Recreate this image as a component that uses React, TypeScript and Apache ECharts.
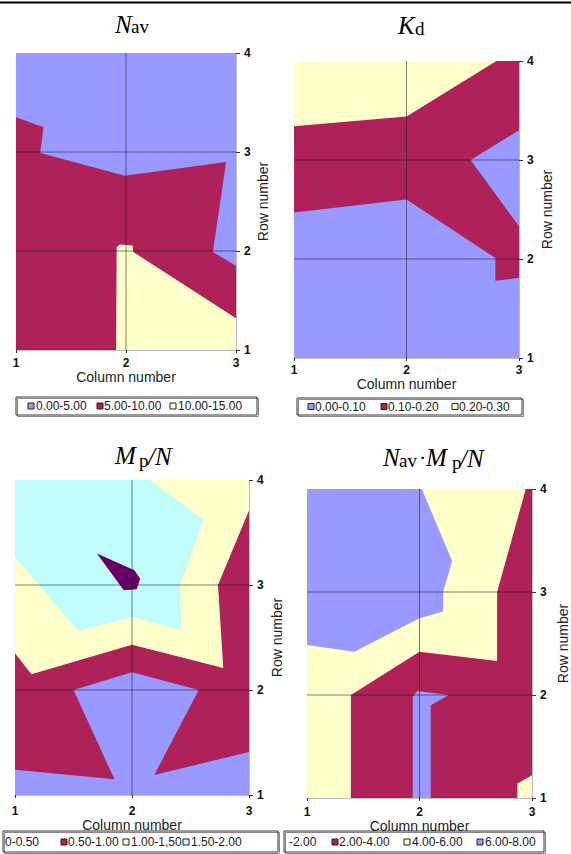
import React, { useEffect, useRef } from 'react';
import * as echarts from 'echarts';

// ---------------- data ----------------
const columnTicks = [1, 3];
const rowTicks = [1, 4];
const gridColumns = [2];
const gridRows = [2, 3];

// Panel 1: N_av
const navLegend = ['0.00-5.00', '5.00-10.00', '10.00-15.00'];
const navLow = [[1, 1], [3, 1], [3, 4], [1, 4]];
const navMid = [[1, 3.35], [1.25, 3.25], [1.22, 2.99], [1.99, 2.76], [2.91, 2.9], [2.79, 1.99], [3, 1.85], [3, 1], [1, 1]];
const navHigh = [[1.91, 1], [1.915, 2.04], [1.945, 2.065], [2.06, 2.055], [2.066, 1.99], [3, 1.32], [3, 1]];

// Panel 2: K_d
const kdLegend = ['0.00-0.10', '0.10-0.20', '0.20-0.30'];
const kdLow = [[1, 1], [3, 1], [3, 4], [1, 4]];
const kdMid = [[1, 2.47], [2, 2.6], [2.79, 2.01], [2.79, 1.78], [3, 1.81], [3, 2.33], [2.57, 3.0], [3, 3.3], [3, 4], [1, 4]];
const kdHigh = [[1, 4], [1, 3.34], [2, 3.44], [2.8, 4]];

// Panel 3: Mp/N
const mpLegend = ['0-0.50', '0.50-1.00', '1.00-1,50', '1.50-2.00'];
const mpBand3 = [[1, 1], [3, 1], [3, 4], [1, 4]];
const mpBand4 = [[1, 4], [2.15, 4], [2.61, 3.62], [2.41, 3.0], [2.42, 2.57], [2, 2.7], [1.54, 2.56], [1, 3.27]];
const mpBand2 = [[3, 3.71], [2.735, 3.0], [2.78, 2.21], [2, 2.43], [1.14, 2.15], [1, 2.35], [1, 1], [3, 1]];
const mpBand1 = [[1, 1.24], [1.85, 1.15], [1.5, 2.0], [2, 2.17], [2.57, 2.0], [2.19, 1.19], [3, 1.41], [3, 1], [1, 1]];
const mpBand5 = [[1.7, 3.3], [2.02, 3.14], [2.07, 3.06], [2.04, 2.96], [1.93, 2.95]];

// Panel 4: N_av * Mp/N
const prodLegend = ['-2.00', '2.00-4.00', '4.00-6.00', '6.00-8.00'];
const prodBand3 = [[1, 1], [3, 1], [3, 4], [1, 4]];
const prodBand4a = [[1, 4], [2.02, 4], [2.29, 3.3], [2.21, 3.0], [2.21, 2.81], [2, 2.745], [1.42, 2.42], [1, 2.485]];
const prodBand2 = [[2.94, 4], [3, 4], [3, 1.22], [2.87, 1.14], [2.87, 1], [1.39, 1], [1.39, 2], [2, 2.42], [2.69, 2.33], [2.69, 3.0], [2.94, 3.98]];
const prodBand4b = [[1.94, 1], [1.94, 1.98], [1.98, 2.04], [2.26, 2.0], [2.1, 1.9], [2.1, 1]];

// ---------------- styles ----------------
const BLUE = '#9999ff';
const CRIMSON = '#ae2159';
const YELLOW = '#ffffcc';
const CYAN = '#c0fcfc';
const PURPLE = '#660066';
const SANS = '"Liberation Sans", Arial, sans-serif';
const SERIF = '"Liberation Serif", "Times New Roman", serif';

type Pt = number[];
type Layer = { name: string; color: string; polys: Pt[][] };

const panels: { grid: any; yGap: number; xMargin: number; xGap: number; layers: Layer[] }[] = [
  {
    grid: { left: 16, top: 53, width: 220, height: 297 },
    yGap: 20,
    xMargin: 7,
    xGap: 17,
    layers: [
      { name: navLegend[0], color: BLUE, polys: [navLow] },
      { name: navLegend[1], color: CRIMSON, polys: [navMid] },
      { name: navLegend[2], color: YELLOW, polys: [navHigh] },
    ],
  },
  {
    grid: { left: 294, top: 61, width: 225, height: 297 },
    yGap: 21,
    xMargin: 6,
    xGap: 15,
    layers: [
      { name: kdLegend[0], color: BLUE, polys: [kdLow] },
      { name: kdLegend[1], color: CRIMSON, polys: [kdMid] },
      { name: kdLegend[2], color: YELLOW, polys: [kdHigh] },
    ],
  },
  {
    grid: { left: 15, top: 480, width: 234, height: 315 },
    yGap: 21,
    xMargin: 10,
    xGap: 21,
    layers: [
      { name: mpLegend[2], color: YELLOW, polys: [mpBand3] },
      { name: mpLegend[3], color: CYAN, polys: [mpBand4] },
      { name: mpLegend[1], color: CRIMSON, polys: [mpBand2] },
      { name: mpLegend[0], color: BLUE, polys: [mpBand1] },
      { name: '2.00-2.50', color: PURPLE, polys: [mpBand5] },
    ],
  },
  {
    grid: { left: 307, top: 489, width: 230, height: 309 },
    yGap: 24,
    xMargin: 8,
    xGap: 19,
    layers: [
      { name: prodLegend[2], color: YELLOW, polys: [prodBand3] },
      { name: prodLegend[3], color: BLUE, polys: [prodBand4a] },
      { name: prodLegend[1], color: CRIMSON, polys: [prodBand2] },
      { name: prodLegend[3] + ' ', color: BLUE, polys: [prodBand4b] },
    ],
  },
];

function layerSeries(layer: Layer, idx: number) {
  const polys = layer.polys;
  return {
    type: 'custom',
    name: layer.name,
    coordinateSystem: 'cartesian2d',
    xAxisIndex: idx,
    yAxisIndex: idx,
    silent: true,
    z: 2,
    itemStyle: { color: layer.color },
    data: polys.map((p, i) => [p[0][0], p[0][1], i]),
    encode: { x: 0, y: 1 },
    renderItem: (params: any, api: any) => {
      const poly = polys[params.dataIndex];
      return {
        type: 'polygon',
        shape: { points: poly.map((pt) => api.coord(pt)) },
        style: { fill: layer.color, stroke: null },
      };
    },
  };
}

function gridLineSeries(idx: number) {
  const segs: Pt[][] = [
    ...gridColumns.map((c) => [[c, rowTicks[0]], [c, rowTicks[1]]]),
    ...gridRows.map((r) => [[columnTicks[0], r], [columnTicks[1], r]]),
  ];
  return {
    type: 'custom',
    name: 'grid' + idx,
    coordinateSystem: 'cartesian2d',
    xAxisIndex: idx,
    yAxisIndex: idx,
    silent: true,
    z: 5,
    data: segs.map((s, i) => [s[0][0], s[0][1], i]),
    encode: { x: 0, y: 1 },
    renderItem: (params: any, api: any) => {
      const s = segs[params.dataIndex];
      const a = api.coord(s[0]);
      const b = api.coord(s[1]);
      return {
        type: 'line',
        shape: { x1: a[0], y1: a[1], x2: b[0], y2: b[1] },
        style: { stroke: 'rgba(25,25,25,0.55)', lineWidth: 1 },
      };
    },
  };
}

function txt(text: string, x: number, y: number, font: string, align = 'left', fill = '#000') {
  return {
    type: 'text',
    x,
    y,
    silent: true,
    style: { text, font, fill, textAlign: align, textVerticalAlign: 'middle', verticalAlign: 'middle' },
  };
}

type LegItem = { text: string; color: string | null; mx: number; tx: number };
function legendGraphic(box: { x: number; y: number; w: number; h: number }, cy: number, items: LegItem[]) {
  const els: any[] = [
    {
      type: 'rect',
      silent: true,
      shape: { x: box.x + 1.5, y: box.y + 1.5, width: box.w, height: box.h },
      style: { fill: 'none', stroke: '#888', lineWidth: 1 },
    },
    {
      type: 'rect',
      silent: true,
      shape: { x: box.x, y: box.y, width: box.w, height: box.h },
      style: { fill: 'none', stroke: '#333', lineWidth: 1 },
    },
  ];
  items.forEach((it) => {
    if (it.color) {
      els.push({
        type: 'rect',
        silent: true,
        shape: { x: it.mx - 3, y: cy - 3, width: 6, height: 6 },
        style: { fill: it.color, stroke: '#222', lineWidth: 1 },
      });
    }
    els.push(txt(it.text, it.tx, cy, `12px ${SANS}`, 'left', '#1a1a1a'));
  });
  return els;
}

function buildOption() {
  const series: any[] = [];
  panels.forEach((p, i) => {
    p.layers.forEach((l) => series.push(layerSeries(l, i)));
    series.push(gridLineSeries(i));
  });

  const graphic: any[] = [
    { type: 'rect', silent: true, shape: { x: 0, y: 1.5, width: 571, height: 2 }, style: { fill: '#000' } },
    // titles
    txt('N', 115, 24, `italic 25px ${SERIF}`),
    txt('av', 131, 26.5, `19px ${SERIF}`),
    txt('K', 398, 25, `italic 25px ${SERIF}`),
    txt('d', 415, 28.5, `19px ${SERIF}`),
    txt('M', 115, 455, `italic 25px ${SERIF}`),
    txt('p', 139, 460.5, `19px ${SERIF}`),
    txt('/N', 148, 456, `italic 25px ${SERIF}`),
    txt('N', 383, 457, `italic 25px ${SERIF}`),
    txt('av', 399, 460.5, `19px ${SERIF}`),
    txt('\u00b7', 419, 457, `22px ${SERIF}`),
    txt('M', 426, 457, `italic 25px ${SERIF}`),
    txt('p', 452, 462, `19px ${SERIF}`),
    txt('/N', 460, 458, `italic 25px ${SERIF}`),
    ...legendGraphic({ x: 16, y: 397, w: 241, h: 18 }, 406, [
      { text: navLegend[0], color: BLUE, mx: 31, tx: 36 },
      { text: navLegend[1], color: CRIMSON, mx: 100, tx: 104 },
      { text: navLegend[2], color: YELLOW, mx: 173, tx: 178 },
    ]),
    ...legendGraphic({ x: 297, y: 398, w: 225, h: 17 }, 406.5, [
      { text: kdLegend[0], color: BLUE, mx: 311, tx: 315 },
      { text: kdLegend[1], color: CRIMSON, mx: 384, tx: 388 },
      { text: kdLegend[2], color: YELLOW, mx: 455, tx: 459 },
    ]),
    ...legendGraphic({ x: 3, y: 831, w: 275, h: 21 }, 842, [
      { text: mpLegend[0], color: null, mx: 0, tx: 5 },
      { text: mpLegend[1], color: CRIMSON, mx: 64, tx: 68 },
      { text: mpLegend[2], color: YELLOW, mx: 126, tx: 131 },
      { text: mpLegend[3], color: CYAN, mx: 186, tx: 191 },
    ]),
    ...legendGraphic({ x: 284, y: 831, w: 260, h: 21 }, 842, [
      { text: prodLegend[0], color: null, mx: 0, tx: 289 },
      { text: prodLegend[1], color: CRIMSON, mx: 335, tx: 339 },
      { text: prodLegend[2], color: YELLOW, mx: 407, tx: 412 },
      { text: prodLegend[3], color: BLUE, mx: 480, tx: 485 },
    ]),
  ];

  return {
    animation: false,
    backgroundColor: '#ffffff',
    grid: panels.map((p) => ({ ...p.grid, containLabel: false })),
    xAxis: panels.map((p, i) => ({
      gridIndex: i,
      type: 'value',
      min: columnTicks[0],
      max: columnTicks[1],
      interval: 1,
      position: 'bottom',
      z: 6,
      axisLine: { show: true, lineStyle: { color: '#bdbdbd', width: 1 } },
      axisTick: { show: true, length: 3, lineStyle: { color: '#333' } },
      axisLabel: { color: '#111', fontWeight: 'bold', fontSize: 12, margin: p.xMargin, fontFamily: SANS },
      splitLine: { show: false },
      name: 'Column number',
      nameLocation: 'middle',
      nameGap: p.xGap,
      nameTextStyle: { color: '#222', fontSize: 14, fontFamily: SANS },
    })),
    yAxis: panels.map((p, i) => ({
      gridIndex: i,
      type: 'value',
      min: rowTicks[0],
      max: rowTicks[1],
      interval: 1,
      position: 'right',
      z: 6,
      axisLine: { show: true, lineStyle: { color: '#bdbdbd', width: 1 } },
      axisTick: { show: true, length: 4, lineStyle: { color: '#333' } },
      axisLabel: { color: '#111', fontWeight: 'bold', fontSize: 12, margin: 8, fontFamily: SANS },
      splitLine: { show: false },
      name: 'Row number',
      nameLocation: 'middle',
      nameRotate: 90,
      nameGap: p.yGap,
      nameTextStyle: { color: '#222', fontSize: 14, fontFamily: SANS },
    })),
    series,
    graphic: { elements: graphic },
  };
}

export default function App() {
  const ref = useRef<HTMLDivElement>(null);
  useEffect(() => {
    if (!ref.current) return;
    const chart = echarts.init(ref.current, null, { renderer: 'svg' });
    chart.setOption(buildOption() as any);
    return () => chart.dispose();
  }, []);
  return (
    <div
      ref={ref}
      style={{ position: 'absolute', left: 0, top: 0, width: 571, height: 854, background: '#fff' }}
    />
  );
}
